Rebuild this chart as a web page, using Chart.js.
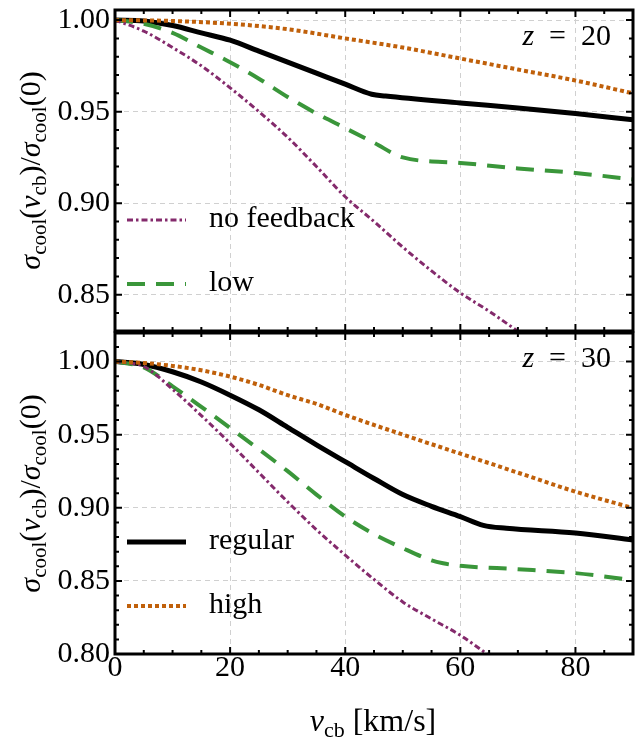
<!DOCTYPE html>
<html>
<head>
<meta charset="utf-8">
<script src="https://cdn.jsdelivr.net/npm/chart.js"></script>
<style>
    body { margin: 0; background: #fff; width: 636px; height: 745px; position: relative; overflow: hidden; font-family: 'Liberation Serif', serif; }
    canvas { position: absolute; left: 0; }
    #top { top: 0; }
    #bottom { top: 323px; }
</style>
</head>
<body>
<canvas id="top" width="636" height="340"></canvas>
<canvas id="bottom" width="636" height="422"></canvas>
<script>
// --- data ---
const X_TICKS = [0, 20, 40, 60, 80];
const Y_TICKS_20 = [0.85, 0.90, 0.95, 1.00];
const Y_TICKS_30 = [0.80, 0.85, 0.90, 0.95, 1.00];

// z = 20
const vRegular20 = [0, 5, 10, 15, 20, 25, 30, 35, 40, 44.6, 47, 60, 70, 80, 90];
const regular20 = [1.0, 0.9995, 0.997, 0.993, 0.989, 0.983, 0.977, 0.971, 0.965, 0.9595, 0.9585, 0.9547, 0.952, 0.949, 0.9455];
const vHigh20 = [0, 10, 20, 30, 40, 50, 60, 70, 80, 90];
const high20 = [1.0, 0.9995, 0.998, 0.995, 0.990, 0.985, 0.979, 0.973, 0.967, 0.960];
const vLow20 = [0, 5, 10, 15, 20, 25, 30, 35, 40, 45, 50, 60, 70, 80, 90];
const low20 = [1.0, 0.998, 0.993, 0.985, 0.977, 0.968, 0.958, 0.949, 0.941, 0.933, 0.925, 0.922, 0.919, 0.9165, 0.913];
const vNofb20 = [0, 5, 10, 15, 20, 25, 30, 35, 40, 45, 50, 55, 60, 65, 70, 80, 90];
const nofb20 = [1.0, 0.994, 0.985, 0.975, 0.963, 0.950, 0.936, 0.920, 0.9035, 0.890, 0.876, 0.863, 0.851, 0.841, 0.830, 0.807, 0.784];

// z = 30
const vRegular30 = [0, 5, 10, 15, 20, 25, 30, 35, 40, 45, 50, 55, 60, 64, 68, 80, 90];
const regular30 = [1.0, 0.998, 0.993, 0.986, 0.977, 0.967, 0.955, 0.943, 0.9315, 0.920, 0.909, 0.901, 0.894, 0.888, 0.886, 0.8827, 0.878];
const vHigh30 = [0, 5, 10, 15, 20, 25, 30, 35, 40, 50, 60, 70, 80, 90];
const high30 = [1.0, 0.999, 0.997, 0.994, 0.9897, 0.984, 0.977, 0.971, 0.9635, 0.950, 0.937, 0.924, 0.911, 0.8998];
const vLow30 = [0, 5, 10, 15, 20, 25, 30, 35, 40, 45, 50, 55, 57, 60, 70, 80, 90];
const low30 = [1.0, 0.996, 0.983, 0.969, 0.9546, 0.940, 0.925, 0.909, 0.894, 0.882, 0.8724, 0.864, 0.862, 0.8603, 0.858, 0.8553, 0.8505];
const vNofb30 = [0, 5, 10, 15, 20, 25, 30, 35, 40, 45, 50, 55, 60, 65, 70, 80, 90];
const nofb30 = [1.0, 0.9966, 0.981, 0.963, 0.944, 0.924, 0.904, 0.885, 0.8676, 0.851, 0.8356, 0.824, 0.8128, 0.799, 0.786, 0.760, 0.735];

const FONT = "'Liberation Serif', 'DejaVu Serif', serif";
const STYLE = {
    regular: { label: 'regular', color: '#000000', width: 5, dash: [] },
    high: { label: 'high', color: '#c0600a', width: 4, dash: [4, 3] },
    low: { label: 'low', color: '#3a963a', width: 4, dash: [18, 11] },
    nofb: { label: 'no feedback', color: '#842a6c', width: 3, dash: [6, 3, 2.5, 3] }
};

const pts = (xs, ys) => xs.map((x, i) => ({ x, y: ys[i] }));

function ds(key, xs, ys) {
    const s = STYLE[key];
    return {
        label: s.label, data: pts(xs, ys),
        borderColor: s.color, borderWidth: s.width, borderDash: s.dash,
        pointRadius: 0, cubicInterpolationMode: 'monotone', clip: 0, fill: false
    };
}

// draw text made of pieces (italic / subscript)
function setFont(ctx, p, size) {
    const fs = Math.round(p.sub ? size * 0.7 : size);
    ctx.font = (p.it ? 'italic ' : '') + fs + 'px ' + FONT;
}
function richWidth(ctx, parts, size) {
    let w = 0;
    parts.forEach(p => { setFont(ctx, p, size); w += ctx.measureText(p.t).width; });
    return w;
}
function drawRich(ctx, parts, x, y, size) {
    ctx.textBaseline = 'alphabetic';
    ctx.textAlign = 'left';
    parts.forEach(p => {
        setFont(ctx, p, size);
        ctx.fillText(p.t, x, y + (p.sub ? size * 0.2 : 0));
        x += ctx.measureText(p.t).width;
    });
}

const Y_TITLE = [{ t: 'σ', it: true }, { t: 'cool', sub: true }, { t: '(' }, { t: 'v', it: true }, { t: 'cb', sub: true },
                 { t: ')/' }, { t: 'σ', it: true }, { t: 'cool', sub: true }, { t: '(0)' }];
const X_TITLE = [{ t: 'v', it: true }, { t: 'cb', sub: true }, { t: ' [km/s]' }];

const decor = {
    id: 'decor',
    afterDatasetsDraw(chart) {
        const { ctx, chartArea: a } = chart;
        const xs = chart.scales.x, ys = chart.scales.y;
        ctx.save();
        ctx.strokeStyle = '#000';
        ctx.lineWidth = 2;
        // minor + major ticks on all four sides, pointing in
        for (let v = 0; v <= 90; v += 5) {
            const px = xs.getPixelForValue(v);
            const len = X_TICKS.includes(v) ? 7 : 4;
            ctx.beginPath();
            ctx.moveTo(px, a.bottom); ctx.lineTo(px, a.bottom - len);
            ctx.moveTo(px, a.top); ctx.lineTo(px, a.top + len);
            ctx.stroke();
        }
        for (let k = Math.ceil(ys.min * 100); k <= Math.floor(ys.max * 100); k++) {
            const py = ys.getPixelForValue(k / 100);
            const len = k % 5 === 0 ? 7 : 4;
            ctx.beginPath();
            ctx.moveTo(a.left, py); ctx.lineTo(a.left + len, py);
            ctx.moveTo(a.right, py); ctx.lineTo(a.right - len, py);
            ctx.stroke();
        }
        ctx.lineWidth = 3;
        ctx.strokeRect(a.left, a.top, a.right - a.left, a.bottom - a.top);
        ctx.restore();
    },
    afterDraw(chart) {
        const { ctx, chartArea: a } = chart;
        const opt = chart.options.plugins.decor;
        ctx.save();
        ctx.fillStyle = '#000';
        // y title
        ctx.save();
        ctx.translate(40, (a.top + a.bottom) / 2);
        ctx.rotate(-Math.PI / 2);
        drawRich(ctx, Y_TITLE, -richWidth(ctx, Y_TITLE, 30) / 2, 0, 30);
        ctx.restore();
        // redshift label
        const zl = [{ t: 'z', it: true }, { t: '\u2002=\u2002' + opt.z }];
        drawRich(ctx, zl, 611 - richWidth(ctx, zl, 30), a.top + opt.zBase, 30);
        // legend
        opt.legend.forEach((it, i) => {
            const s = STYLE[it];
            const y = a.top + opt.legY[i];
            ctx.save();
            ctx.strokeStyle = s.color; ctx.lineWidth = s.width; ctx.setLineDash(s.dash);
            ctx.beginPath(); ctx.moveTo(127, y); ctx.lineTo(186, y); ctx.stroke();
            ctx.restore();
            ctx.font = '30px ' + FONT;
            ctx.textAlign = 'left'; ctx.textBaseline = 'alphabetic';
            ctx.fillText(s.label, 209, y + 7);
        });
        if (opt.xTitle) {
            drawRich(ctx, X_TITLE, 373 - richWidth(ctx, X_TITLE, 32) / 2, 731 - 323, 32);
        }
        ctx.restore();
    }
};

function makeChart(id, datasets, yMin, yMax, yTicks, bottomH, padTop, showX, decorOpt) {
    return new Chart(document.getElementById(id), {
        type: 'line',
        data: { datasets },
        plugins: [decor],
        options: {
            responsive: false,
            animation: false,
            layout: { padding: { left: 0, right: 3, top: padTop, bottom: 0 } },
            plugins: { legend: { display: false }, tooltip: { enabled: false }, decor: decorOpt },
            scales: {
                x: {
                    type: 'linear', min: 0, max: 90,
                    afterBuildTicks: s => { s.ticks = X_TICKS.map(v => ({ value: v })); },
                    afterFit: s => { s.height = bottomH; s.paddingLeft = 0; s.paddingRight = 0; },
                    grid: { color: '#d0d0d0', lineWidth: 1, drawTicks: false },
                    border: { display: false, dash: [5, 4] },
                    ticks: { display: showX, color: '#000', font: { family: FONT, size: 30 }, padding: -4, maxRotation: 0, autoSkip: false }
                },
                y: {
                    type: 'linear', min: yMin, max: yMax,
                    afterBuildTicks: s => { s.ticks = yTicks.map(v => ({ value: v })); },
                    afterFit: s => { s.width = 115; s.paddingTop = 0; s.paddingBottom = 0; },
                    grid: { color: '#d0d0d0', lineWidth: 1, drawTicks: false },
                    border: { display: false, dash: [5, 4] },
                    ticks: { color: '#000', font: { family: FONT, size: 30 }, padding: 5, autoSkip: false,
                             callback: v => v.toFixed(2) }
                }
            }
        }
    });
}

makeChart('top', [
    ds('high', vHigh20, high20),
    ds('nofb', vNofb20, nofb20),
    ds('low', vLow20, low20),
    ds('regular', vRegular20, regular20)
], 0.8302, 1.0055, Y_TICKS_20, 9, 10, false,
   { z: '20', zBase: 35, legend: ['nofb', 'low'], legY: [210, 274], xTitle: false });

makeChart('bottom', [
    ds('high', vHigh30, high30),
    ds('nofb', vNofb30, nofb30),
    ds('low', vLow30, low30),
    ds('regular', vRegular30, regular30)
], 0.80, 1.0195, Y_TICKS_30, 91, 10, true,
   { z: '30', zBase: 34, legend: ['regular', 'high'], legY: [209, 273], xTitle: true });
</script>
</body>
</html>
